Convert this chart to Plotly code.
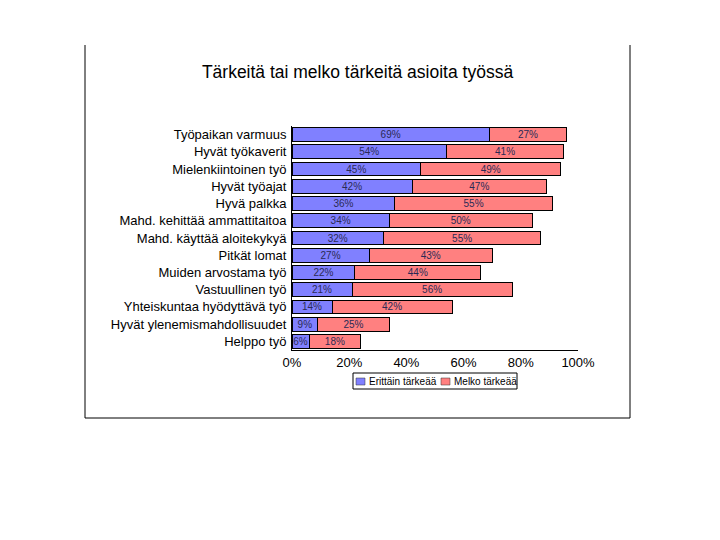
import plotly.graph_objects as go

categories = ["Työpaikan varmuus", "Hyvät työkaverit", "Mielenkiintoinen työ", "Hyvät työajat",
              "Hyvä palkka", "Mahd. kehittää ammattitaitoa", "Mahd. käyttää aloitekykyä",
              "Pitkät lomat", "Muiden arvostama työ", "Vastuullinen työ",
              "Yhteiskuntaa hyödyttävä työ", "Hyvät ylenemismahdollisuudet", "Helppo työ"]
erittain = [69, 54, 45, 42, 36, 34, 32, 27, 22, 21, 14, 9, 6]
melko = [27, 41, 49, 47, 55, 50, 55, 43, 44, 56, 42, 25, 18]
series_names = ["Erittäin tärkeää", "Melko tärkeää"]
series_colors = ["#8080FF", "#FF8080"]
tick_vals = [0, 20, 40, 60, 80, 100]
tick_text = ["0%", "20%", "40%", "60%", "80%", "100%"]
title_text = "Tärkeitä tai melko tärkeitä asioita työssä"

FONT = "Liberation Sans, Arial, sans-serif"
OFF = 8  # page body margin offset

# plot area in screenshot pixels
PX0, PX1, PY0, PY1 = 292, 578, 126, 350
PW, PH = PX1 - PX0, PY1 - PY0


def px(x):
    return (x - PX0) / PW


def py(y):
    return (PY1 - y) / PH


fig = go.Figure()
for vals, name, color in zip([erittain, melko], series_names, series_colors):
    fig.add_trace(go.Bar(
        y=categories, x=vals, name=name, orientation="h",
        marker=dict(color=color, line=dict(color="black", width=1)),
        text=[f"{v}%" for v in vals], textposition="inside", insidetextanchor="middle",
        textfont=dict(size=10, color="#2a2a55", family=FONT),
        constraintext="none", showlegend=False,
    ))

fig.update_layout(
    barmode="stack", bargap=0.2,
    width=720, height=540,
    margin=dict(l=PX0 - OFF, r=720 - (PX0 - OFF) - PW, t=PY0 - OFF, b=540 - (PY0 - OFF) - PH,
                autoexpand=False),
    paper_bgcolor="white", plot_bgcolor="white",
    font=dict(family=FONT, color="black"),
    title=dict(text=title_text, x=(357.5 - OFF) / 720, xanchor="center", y=1 - (72 - OFF) / 540,
               yanchor="middle", font=dict(size=17.5, family=FONT, color="black")),
    uniformtext=dict(minsize=9, mode="show"),
    showlegend=False,
)
fig.update_xaxes(range=[0, 100], tickvals=tick_vals, ticktext=tick_text, showgrid=False,
                 showline=True, linecolor="black", linewidth=1, ticks="", zeroline=False,
                 tickfont=dict(size=13, family=FONT))
fig.update_yaxes(autorange="reversed", showgrid=False, showline=True, linecolor="black",
                 linewidth=1, ticks="", tickfont=dict(size=13, family=FONT), ticklabelstandoff=2)

# outer frame (left, right, bottom)
L, R, B, T = px(85), px(630), py(418), py(45)
for x0, y0, x1, y1 in [(L, T, L, B), (R, T, R, B), (L, B, R, B)]:
    fig.add_shape(type="line", xref="paper", yref="paper", x0=x0, y0=y0, x1=x1, y1=y1,
                  line=dict(color="black", width=1))

# legend box
fig.add_shape(type="rect", xref="paper", yref="paper", x0=px(353), x1=px(517), y0=py(389), y1=py(373),
              line=dict(color="black", width=1), fillcolor="white")
legend_items = [(356, 367), (441, 452)]
for (sx, tx), name, color in zip(legend_items, series_names, series_colors):
    fig.add_shape(type="rect", xref="paper", yref="paper", x0=px(sx), x1=px(sx + 9),
                  y0=py(385), y1=py(378), line=dict(color="#333333", width=0.5), fillcolor=color)
    fig.add_annotation(xref="paper", yref="paper", x=px(tx), y=py(381), text=name, showarrow=False,
                       xanchor="left", yanchor="middle", font=dict(size=10, family=FONT, color="black"))

fig.write_html("out.html")
